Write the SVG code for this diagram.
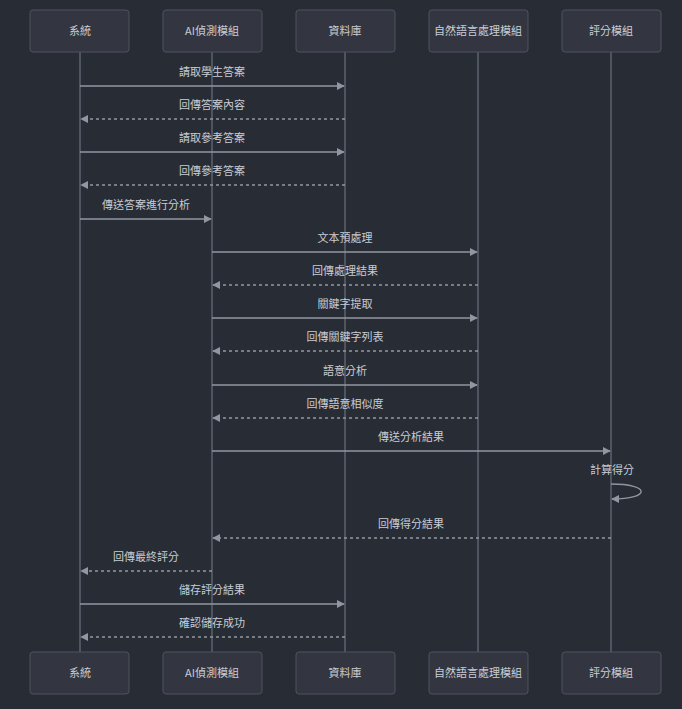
<svg xmlns="http://www.w3.org/2000/svg" width="682" height="709" viewBox="0 0 682 709">
<style>
  .bg{fill:#282c34}
  .box{fill:#333641;stroke:#4d525e;stroke-width:1}
  .life{stroke:#6b7180;stroke-width:1.2}
  .t{font-family:"Noto Sans CJK TC","Noto Sans CJK SC","Liberation Sans",sans-serif;font-size:11px;fill:#c9cdd4;text-anchor:middle}
  .msg{stroke:#9196a0;stroke-width:1.4;fill:none}
  .ret{stroke:#9196a0;stroke-width:1.4;fill:none;stroke-dasharray:3,3}
</style>
<defs>
  <marker id="arrow" viewBox="0 0 10 10" refX="9" refY="5" markerWidth="8" markerHeight="8" orient="auto-start-reverse" markerUnits="userSpaceOnUse">
    <path d="M0,0 L10,5 L0,10 z" fill="#9196a0"/>
  </marker>
</defs>
<rect class="bg" width="682" height="709"/>

<g id="lifelines">
  <line class="life" x1="80" y1="52" x2="80" y2="652"/>
  <line class="life" x1="212" y1="52" x2="212" y2="652"/>
  <line class="life" x1="345" y1="52" x2="345" y2="652"/>
  <line class="life" x1="478" y1="52" x2="478" y2="652"/>
  <line class="life" x1="611" y1="52" x2="611" y2="652"/>
</g>

<g id="sys">
  <rect class="box" x="30" y="10" width="99" height="42" rx="3"/>
  <text class="t" x="80" y="35">系統</text>
  <rect class="box" x="30" y="652" width="99" height="42" rx="3"/>
  <text class="t" x="80" y="677">系統</text>
</g>
<g id="ai">
  <rect class="box" x="163" y="10" width="99" height="42" rx="3"/>
  <text class="t" x="212" y="35">AI偵測模組</text>
  <rect class="box" x="163" y="652" width="99" height="42" rx="3"/>
  <text class="t" x="212" y="677">AI偵測模組</text>
</g>
<g id="db">
  <rect class="box" x="296" y="10" width="99" height="42" rx="3"/>
  <text class="t" x="345" y="35">資料庫</text>
  <rect class="box" x="296" y="652" width="99" height="42" rx="3"/>
  <text class="t" x="345" y="677">資料庫</text>
</g>
<g id="nlp">
  <rect class="box" x="429" y="10" width="99" height="42" rx="3"/>
  <text class="t" x="478" y="35">自然語言處理模組</text>
  <rect class="box" x="429" y="652" width="99" height="42" rx="3"/>
  <text class="t" x="478" y="677">自然語言處理模組</text>
</g>
<g id="score">
  <rect class="box" x="562" y="10" width="99" height="42" rx="3"/>
  <text class="t" x="611" y="35">評分模組</text>
  <rect class="box" x="562" y="652" width="99" height="42" rx="3"/>
  <text class="t" x="611" y="677">評分模組</text>
</g>

<g id="messages">
  <line class="msg" x1="80" y1="86" x2="344" y2="86" marker-end="url(#arrow)"/>
  <text class="t" x="212" y="76">請取學生答案</text>
  <line class="ret" x1="345" y1="119" x2="81" y2="119" marker-end="url(#arrow)"/>
  <text class="t" x="212" y="109">回傳答案內容</text>
  <line class="msg" x1="80" y1="152" x2="344" y2="152" marker-end="url(#arrow)"/>
  <text class="t" x="212" y="142">請取參考答案</text>
  <line class="ret" x1="345" y1="185" x2="81" y2="185" marker-end="url(#arrow)"/>
  <text class="t" x="212" y="175">回傳參考答案</text>
  <line class="msg" x1="80" y1="219" x2="211" y2="219" marker-end="url(#arrow)"/>
  <text class="t" x="146" y="209">傳送答案進行分析</text>
  <line class="msg" x1="212" y1="252" x2="477" y2="252" marker-end="url(#arrow)"/>
  <text class="t" x="345" y="242">文本預處理</text>
  <line class="ret" x1="478" y1="285" x2="213" y2="285" marker-end="url(#arrow)"/>
  <text class="t" x="345" y="275">回傳處理結果</text>
  <line class="msg" x1="212" y1="318" x2="477" y2="318" marker-end="url(#arrow)"/>
  <text class="t" x="345" y="308">關鍵字提取</text>
  <line class="ret" x1="478" y1="351" x2="213" y2="351" marker-end="url(#arrow)"/>
  <text class="t" x="345" y="341">回傳關鍵字列表</text>
  <line class="msg" x1="212" y1="385" x2="477" y2="385" marker-end="url(#arrow)"/>
  <text class="t" x="345" y="375">語意分析</text>
  <line class="ret" x1="478" y1="418" x2="213" y2="418" marker-end="url(#arrow)"/>
  <text class="t" x="345" y="408">回傳語意相似度</text>
  <line class="msg" x1="212" y1="451" x2="610" y2="451" marker-end="url(#arrow)"/>
  <text class="t" x="411" y="441">傳送分析結果</text>
  <path class="msg" d="M611,484 C651,484 651,499 612,499" marker-end="url(#arrow)"/>
  <text class="t" x="612" y="474">計算得分</text>
  <line class="ret" x1="611" y1="538" x2="213" y2="538" marker-end="url(#arrow)"/>
  <text class="t" x="411" y="528">回傳得分結果</text>
  <line class="ret" x1="212" y1="571" x2="81" y2="571" marker-end="url(#arrow)"/>
  <text class="t" x="146" y="561">回傳最終評分</text>
  <line class="msg" x1="80" y1="604" x2="344" y2="604" marker-end="url(#arrow)"/>
  <text class="t" x="212" y="594">儲存評分結果</text>
  <line class="ret" x1="345" y1="637" x2="81" y2="637" marker-end="url(#arrow)"/>
  <text class="t" x="212" y="627">確認儲存成功</text>
</g>
</svg>
